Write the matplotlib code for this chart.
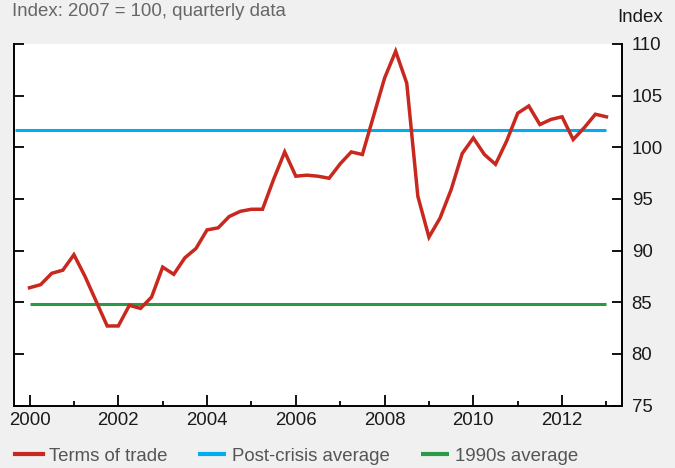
import matplotlib
matplotlib.use("Agg")
import matplotlib.pyplot as plt
from matplotlib.ticker import FixedLocator, NullFormatter
import numpy as np

plt.rcParams['font.family'] = ['Liberation Sans', 'DejaVu Sans']

# ---- data (quarterly, 2000Q1 .. 2013Q1) ----
terms_of_trade = [
    86.4, 86.7, 87.8, 88.1, 89.6, 87.5, 85.1, 82.7, 82.7, 84.7,
    84.4, 85.5, 88.4, 87.7, 89.3, 90.2, 92.0, 92.2, 93.3, 93.8,
    94.0, 94.0, 96.9, 99.55, 97.2, 97.3, 97.2, 97.0, 98.4, 99.55,
    99.3, 103.0, 106.7, 109.3, 106.2, 95.25, 91.3, 93.15, 95.9, 99.4,
    100.9, 99.3, 98.35, 100.6, 103.3, 104.0, 102.2, 102.7, 102.95, 100.75,
    101.9, 103.2, 102.95,
]
post_crisis_average = 101.7
nineties_average = 84.85
year_labels = ['2000', '2002', '2004', '2006', '2008', '2010', '2012']
y_ticks = [75, 80, 85, 90, 95, 100, 105, 110]

RED = '#c8281e'
BLUE = '#00aeef'
GREEN = '#2a9a47'
BG = '#f0f0f0'
FS = 13.4

x = np.arange(len(terms_of_trade))

fig = plt.figure(figsize=(6.75, 4.68), dpi=100, facecolor=BG)
W, H = 675, 468
left, right, top, bottom = 14, 622, 44, 405.5
ax = fig.add_axes([left / W, 1 - bottom / H, (right - left) / W, (bottom - top) / H])
ax.set_facecolor('white')

ax.plot([-1.3, x[-1]], [post_crisis_average] * 2, color=BLUE, lw=2.2, solid_capstyle='butt', label='Post-crisis average')
ax.plot([x[0], x[-1]], [nineties_average] * 2, color=GREEN, lw=2.2, solid_capstyle='butt', label='1990s average')
ax.plot(x, terms_of_trade, color=RED, lw=2.5, solid_joinstyle='miter', label='Terms of trade')

ax.set_xlim(-1.4, 53.4)
ax.set_ylim(75, 110)

for s in ['left', 'right', 'bottom']:
    ax.spines[s].set_linewidth(1.4)
    ax.spines[s].set_color('black')
ax.spines['top'].set_visible(False)

major_x = [4 * i * 2 for i in range(len(year_labels))]
minor_x = [4 * (2 * i + 1) for i in range(len(year_labels))]
ax.xaxis.set_major_locator(FixedLocator(major_x))
ax.set_xticklabels(year_labels)
ax.xaxis.set_minor_locator(FixedLocator(minor_x))
ax.xaxis.set_minor_formatter(NullFormatter())
ax.tick_params(axis='x', which='major', direction='in', length=7.7, width=1.3, pad=4.5,
               labelsize=FS, labelcolor='#1a1a1a')
ax.tick_params(axis='x', which='minor', direction='in', length=3.6, width=1.3)

ax.set_yticks(y_ticks)
ax.yaxis.tick_right()
ax.tick_params(axis='y', which='major', direction='in', length=7.2, width=1.3, pad=7,
               left=True, right=True, labelleft=False, labelright=True,
               labelsize=FS, labelcolor='#1a1a1a')

fig.text(12 / W, 1 - 11.5 / H, 'Index: 2007 = 100, quarterly data', fontsize=FS,
         color='#666666', ha='left', va='center')
fig.text(640 / W, 1 - 17.5 / H, 'Index', fontsize=FS, color='#1a1a1a', ha='center', va='center')

h, l = ax.get_legend_handles_labels()
order = [2, 0, 1]
leg = fig.legend([h[i] for i in order], [l[i] for i in order], loc='center left',
                 bbox_to_anchor=(15 / W, 1 - 456.5 / H), ncol=3, frameon=False,
                 fontsize=FS, handlelength=1.5, handletextpad=0.33, columnspacing=1.65,
                 borderaxespad=0, borderpad=0)
for t in leg.get_texts():
    t.set_color('#555555')
for line in leg.get_lines():
    line.set_linewidth(3)

fig.savefig('out.png', dpi=100, facecolor=BG)
